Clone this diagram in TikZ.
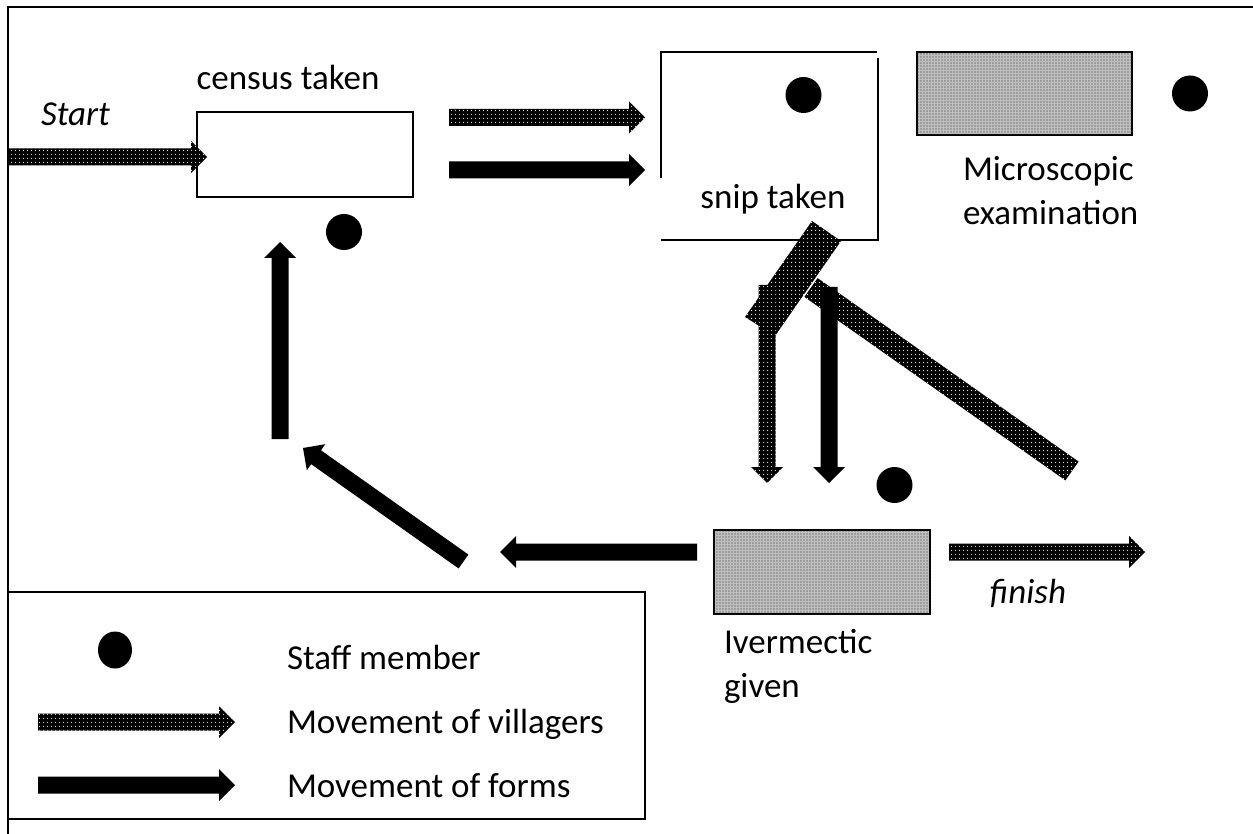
\documentclass[tikz,border=0pt]{standalone}
\usepackage{fontspec}
\setmainfont{Carlito}
\usetikzlibrary{calc,patterns.meta,shapes.geometric}
\tikzset{
  every node/.style={inner sep=0pt, outer sep=0pt},
  lbl/.style={font=\fontsize{35pt}{44pt}\selectfont, align=left},
  villager/.style={fill=black, postaction={pattern={Dots[distance=4pt,radius=0.65pt]}, pattern color=white}},
  forms/.style={fill=black},
  staff/.style={circle, fill=black, minimum size=36pt},
  plainbox/.style={draw, line width=1.3pt},
  shadebox/.style={draw, line width=1.5pt, fill=black!25, postaction={pattern={Dots[distance=3pt,radius=0.7pt]}, pattern color=black!80}},
  frame/.style={line width=2pt},
}
\newcommand\blockarrow[3]{%
  \coordinate (ba-h) at ($(#3)!16pt!(#2)$);
  \path[#1] ($(#2)!8.5pt!90:(#3)$) -- ($(ba-h)!8.5pt!90:(#3)$) -- ($(ba-h)!16pt!90:(#3)$) -- (#3)
    -- ($(ba-h)!16pt!-90:(#3)$) -- ($(ba-h)!8.5pt!-90:(#3)$) -- ($(#2)!8.5pt!-90:(#3)$) -- cycle;}
\begin{document}
\begin{tikzpicture}[x=1pt,y=-1pt]
\useasboundingbox (0,0) rectangle (1253,834);
% outer frame
\draw[frame] (8,834) -- (8,7) -- (1253,7);
% legend box
\node[draw, line width=1.5pt, minimum width=637pt, minimum height=227pt] (legend) at (326.5,705.5) {};
% boxes
\node[plainbox, minimum width=216pt, minimum height=85pt] (census) at (305,154.5) {};
\node[minimum width=217pt, minimum height=188pt] (snip) at (769.5,146) {};
\draw[line width=1.3pt] (661,178) -- (661,52) -- (877,52);
\draw[line width=1.3pt] (878,58) -- (878,240) -- (661,240);
\node[shadebox, minimum width=215pt, minimum height=83pt] (micro) at (1024.5,93.5) {};
\node[shadebox, minimum width=216pt, minimum height=84pt] (iver) at (822,572) {};
% staff
\node[staff] (s1) at (344,232) {};
\node[staff] (s2) at (803.5,95) {};
\node[staff] (s3) at (1190,93.5) {};
\node[staff] (s4) at (894.5,485) {};
\node[fill=black, ellipse, minimum width=34pt, minimum height=37pt] (ls) at (115,650) {};
% labels
\node[lbl, anchor=base west] (startlbl) at (41,126) {\itshape Start};
\node[lbl, anchor=base] (censuslbl) at (288,90) {census taken};
\node[lbl, anchor=base] (sniplbl) at (773,209) {snip taken};
\node[lbl, anchor=base west] (microlbl) at (963,225) {Microscopic\\examination};
\node[lbl, anchor=base west] (iverlbl) at (724,697) {Ivermectic\\given};
\node[lbl, anchor=base] (finishlbl) at (1028,603) {\itshape finish};
\node[lbl, anchor=base west] (lt1) at (287,669) {Staff member};
\node[lbl, anchor=base west] (lt2) at (287,733) {Movement of villagers};
\node[lbl, anchor=base west] (lt3) at (287,797) {Movement of forms};
% bars
\path[villager] (817.6,278.1) -- (1078.6,461.6) -- (1065.4,480.4) -- (804.4,296.9) -- cycle;
\path[villager] (745,317) -- (812,221) -- (841,241) -- (775,336) -- cycle;
% arrow end points
\coordinate (a1s) at (8,157);      \coordinate (a1e) at (207,157);
\coordinate (a2s) at (449,117.5);  \coordinate (a2e) at (645,117.5);
\coordinate (a3s) at (449,170);    \coordinate (a3e) at (645,170);
\coordinate (a4s) at (767,285);    \coordinate (a4e) at (767,483);
\coordinate (a5s) at (829,287);    \coordinate (a5e) at (829,483);
\coordinate (a6s) at (949,552);    \coordinate (a6e) at (1145,552);
\coordinate (a7s) at (697,552);    \coordinate (a7e) at (500,552);
\coordinate (a8s) at (463.5,561.5);\coordinate (a8e) at (303,448);
\coordinate (a9s) at (280,439);    \coordinate (a9e) at (280,242);
\coordinate (l1s) at (38,722);     \coordinate (l1e) at (235,722);
\coordinate (l2s) at (38,785);     \coordinate (l2e) at (235,785);
\blockarrow{villager}{a1s}{a1e}
\blockarrow{villager}{a2s}{a2e}
\blockarrow{forms}{a3s}{a3e}
\blockarrow{villager}{a4s}{a4e}
\blockarrow{forms}{a5s}{a5e}
\blockarrow{villager}{a6s}{a6e}
\blockarrow{forms}{a7s}{a7e}
\blockarrow{forms}{a8s}{a8e}
\blockarrow{forms}{a9s}{a9e}
\blockarrow{villager}{l1s}{l1e}
\blockarrow{forms}{l2s}{l2e}
\end{tikzpicture}
\end{document}
